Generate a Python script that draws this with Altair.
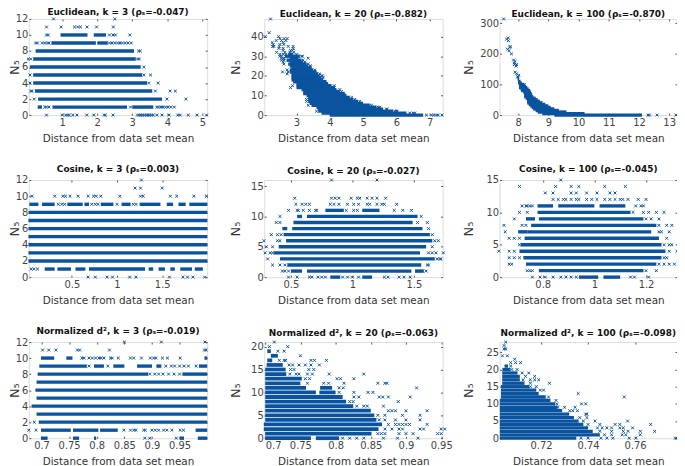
import altair as alt
import pandas as pd

BLUE = "#0a539f"
XSHAPE = "M-1,-1L1,1M1,-1L-1,1"

# Each RUNS entry: (N5, start, end) of a stretch so dense the crosses merge.
# Each POINTS entry: (N5, [distances]) of separately visible crosses.
P1_RUNS = [(10,.95,1.72),(10,1.9,2.25),(9,.69,1.96),(9,2.0,2.3),(8,.24,3.05),(7,.17,3.1),(6,.08,3.24),(5,.17,3.28),
           (4,.17,3.42),(3,.22,3.57),(2,.31,3.85),(1,.72,2.85),(1,.3,.42),(1,3.0,3.6)]
P1_POINTS = [(12,[.75,2.5]),(11,[.55,.97,1.35,1.44,1.52,1.71,1.98,2.46]),(10,[.55,.6,2.35,2.45,2.52,2.93]),
             (9,[.24,.29,.43,.5,.58,.62,2.35,2.42,2.5,2.58,2.65,2.72,2.8,2.88,2.97]),(8,[3.18,3.23]),(7,[.03,.1,3.15,3.2]),
             (6,[3.33]),(5,[.08,3.33,3.52]),(4,[.08,3.47,3.74]),(3,[.1,.14,3.66,4.08,4.23]),(2,[.2,3.99,4.53]),
             (1,[.5,.55,.62,2.95,3.7,3.75,3.82,3.88,3.95,4.02,4.1,4.2]),
             (0,[.55,1.0,1.1,1.15,1.2,1.3,1.42,1.7,1.9,2.2,2.23,2.45,3.15,3.2,3.25,3.3,3.35,3.4,3.45,3.5,3.55,3.6,3.7,3.85,4.05,4.3,4.37,4.6,4.85,5.12])]

P2_RUNS = [(0,4.0,6.8),(1,3.75,6.3),(2,3.65,5.9),(3,3.65,5.6),(4,3.6,5.4),(5,3.45,5.2),(6,3.4,5.0),(7,3.35,4.85),(8,3.35,4.7),
           (9,3.35,4.6),(10,3.3,4.5),(11,3.2,4.45),(12,3.2,4.3),(13,3.15,4.2),(14,3.0,4.15),(15,3.0,4.05),(16,3.0,3.95),
           (17,2.9,3.9),(18,2.85,3.8),(19,2.85,3.75),(20,2.85,3.7),(21,2.85,3.65),(22,2.8,3.6),(23,2.8,3.5),(24,2.85,3.45),
           (25,2.8,3.35),(26,2.75,3.3),(27,2.8,3.2),(28,2.7,3.15),(29,2.8,3.05),(30,2.65,3.1),(31,2.75,2.9)]
P2_POINTS = [(49,[2.22]),(42,[2.18]),(40,[2.06,2.46]),(39,[2.5,2.63,2.72]),(38,[2.39,2.55,2.68]),(37,[2.27,2.6]),(36,[2.3,2.5,2.62]),
             (35,[2.28,2.32,2.48,2.75,2.9]),(34,[2.47,2.6,2.9]),(33,[2.6,2.82,2.88]),(32,[2.4,2.65,2.8,2.92]),(31,[2.5,2.6,2.68,3.0]),
             (30,[2.5,2.55,3.15,3.18]),(29,[2.55,2.62,3.35]),(28,[2.55,2.62,3.2]),(27,[2.6,3.25]),(26,[2.62,3.35]),(25,[3.4,3.42]),
             (23,[2.72,3.55]),(22,[2.58,2.75]),(21,[2.72,3.7]),(20,[3.75,3.78]),(19,[3.8]),(15,[2.88,4.13]),(14,[2.82,4.13]),
             (13,[4.3]),(12,[4.35]),(9,[4.66]),(8,[3.3,4.75]),(7,[3.3,4.9]),(5,[3.35,5.25]),(4,[5.45,5.5]),(3,[5.7,5.72]),(2,[3.6,5.95,6.0,6.02]),
             (1,[6.4,6.5,6.55]),(0,[6.9,7.05,7.12,7.2,7.25,7.37])]

P3_RUNS = [(0,9.2,12.1),(5,8.8,10.2),(10,8.65,9.6),(15,8.58,9.35),(20,8.5,9.2),(25,8.45,9.08),(30,8.4,9.0),(35,8.35,8.9),(40,8.3,8.8),
           (45,8.3,8.72),(50,8.3,8.65),(55,8.25,8.58),(60,8.2,8.5),(65,8.2,8.47),(70,8.2,8.45),(75,8.17,8.42),(80,8.1,8.4),(85,8.08,8.35),
           (90,8.03,8.3),(95,8.03,8.25),(100,8.03,8.2),(105,8.0,8.12),(110,8.0,8.08),(118,7.98,8.03)]
P3_POINTS = [(314,[7.52]),(252,[7.67]),(248,[7.62]),(243,[7.68]),(223,[7.75]),(222,[7.72]),(215,[7.65]),(210,[7.7]),(200,[7.78]),
             (180,[7.85]),(175,[7.9]),(170,[7.87]),(165,[7.88,7.95]),(160,[7.93]),(140,[7.9]),(135,[7.95]),(130,[8.02]),(125,[7.98,8.0]),
             (100,[8.1,8.2]),(90,[8.25]),(75,[8.38]),(40,[8.6,8.75]),(0,[12.3,12.35,12.6,13.23])]

P4_RUNS = [(9,.03,.13),(9,.17,.31),(9,.45,.62),(9,.64,.69),(9,.82,.96),(9,1.05,1.15),(9,1.25,1.48),(9,1.55,1.62),(9,1.8,2.0),(9,1.68,1.76),
           (8,.02,2.0),(7,.02,2.0),(6,.02,2.0),(5,.02,2.0),(4,.02,2.0),(3,.02,2.0),(2,.02,2.0),
           (1,.2,.31),(1,.34,.49),(1,.54,.65),(1,.69,1.31),(1,1.35,1.4),(1,1.46,1.53),(1,1.59,1.64),(1,1.7,1.83),(1,1.86,1.95)]
P4_POINTS = [(12,[1.27]),(11,[1.2,1.26,1.5]),(10,[.06,.31,.40,.43,.48,.57,.68,.74,.77,.82,1.03,1.26,1.29,1.59,1.66,1.85,1.99]),
             (9,[.35,.39,.42,.72,.76,.79,1.0,1.18,1.21]),(1,[.05,.08,.12]),(0,[.68,.76,.89,.95,1.14,1.21,1.58,1.73,1.78,1.84,1.97])]

P5_RUNS = [(11,.78,.93),(11,1.08,1.22),(10,.55,.59),(10,.63,1.53),(9,.52,1.49),(8,.43,.47),(8,.51,1.57),(7,.44,1.63),(6,.46,1.65),(5,.4,1.6),
           (4,.36,1.55),(3,.41,1.67),(2,.47,1.56),(1,.5,.59),(1,.63,1.48),(1,1.51,1.58),(0,1.08,1.16),(0,.82,.9)]
P5_POINTS = [(16,[.83,1.2]),(13,[.53,.83,.86,.89,.99,1.04,1.06,1.12,1.16,1.2,1.27]),
             (12,[.54,.59,.62,.65,.82,.85,.89,.96,1.01,1.05,1.12,1.14,1.2,1.24,1.26,1.36]),
             (11,[.48,.55,.56,.6,.65,.7,.71,.95,1.01,1.04,1.34,1.41,1.48]),(10,[.41,1.56]),(9,[.38,.41,1.53,1.61]),(8,[1.62]),
             (7,[.34,.39,.42,1.65]),(6,[.28,.39,.41,1.67,1.7]),(5,[.3,.35,1.65]),(4,[.29,.33,.35,1.62,1.65,1.68,1.74]),
             (3,[.31,1.69,1.71,1.72]),(2,[.35,.41,.45,1.61,1.62]),(1,[.43,.45,.48,1.53,1.57,1.6]),
             (0,[.48,.55,.65,.67,.72,.75,.78,.92,.96,1.0,1.05,1.26,1.29,1.38,1.42,1.47])]

P6_RUNS = [(11,.78,.84),(11,.86,1.0),(11,1.02,1.12),(10,.78,1.14),(9,.785,1.19),(9,.735,.77),(8,.755,1.24),(7,.74,1.22),(7,.705,.74),
           (6,.73,1.25),(5,.715,1.26),(4,.71,1.275),(3,.725,1.26),(2,.735,1.24),(1,.785,1.19),(0,.94,1.015),(0,1.035,1.1)]
P6_POINTS = [(15,[.87]),(14,[.71,.85,.91,.94,1.04,1.12]),(13,[.81,.84,.91,.93,.97,1.01,1.06,1.08]),
             (12,[.84,.86,.88,.89,.91,.93,.94,.97,.99,1.01,1.04,1.06,1.08,1.1,1.11,1.13,1.17,1.2]),(11,[.72,.735,.74,.75,.76,1.16,1.18,1.19]),
             (10,[.71,.74,1.15,1.19,1.21,1.24,1.27]),(9,[.69,1.2,1.22,1.25]),(8,[.65,.72,.735,1.25,1.28,1.3]),(7,[.655,1.25,1.26,1.29]),
             (6,[.67,.69,.71,1.28]),(5,[.71,1.27,1.29,1.3]),(4,[.63,.67,.69,1.29,1.32]),(3,[.67,.69,.71,1.27,1.28]),
             (2,[.67,.68,1.25,1.27,1.29,1.31]),(1,[.74,.75,.76,1.2,1.24]),(0,[.76,.79,.81,.84,.87,.89,.91,.93,1.14,1.155,1.21])]

P7_RUNS = [(10,.699,.723),(10,.745,.756),(10,.995,1.0),(9,.696,.782),(9,.795,.813),(9,.83,.85),(9,.873,.9),(9,.908,.917),(9,.985,1.0),
           (8,.693,.893),(8,.955,1.0),(7,.691,1.0),(6,.689,1.0),(5,.691,1.0),(4,.682,1.0),(3,.691,1.0),(2,.695,1.0),
           (1,.699,.753),(1,.757,.803),(1,.806,.838),(1,.979,1.0),(0,.699,.711),(0,.757,.768),(0,.795,.799),(0,.95,.958),(0,.983,1.0)]
P7_POINTS = [(12,[.85,.917,.996]),(11,[.702,.713,.726,.765,.769,.823,.995,.998]),
             (10,[.773,.777,.786,.792,.798,.804,.808,.813,.825,.828,.839,.861,.867,.881,.897,.903,.907,.919,.928,.951]),
             (9,[.786,.82,.925,.935,.941,.95,.958,.966,.98]),(8,[.896,.905,.912,.92,.93,.94,.95]),(2,[.687]),
             (1,[.677,.69,.849,.861,.867,.871,.885,.888,.9,.906,.912,.921,.927,.936,.951,.957]),(0,[.887,.896,.944])]

P8_RUNS = [(19,.703,.708),(18,.708,.718),(17,.703,.71),(16,.702,.725),(15,.7,.729),(14,.7,.73),(13,.7,.752),(12,.7,.75),(11,.7,.758),
           (11,.778,.795),(10,.7,.772),(10,.777,.8),(9,.7,.81),(8,.7,.815),(7,.7,.825),(6,.7,.85),(5,.7,.855),(4,.7,.858),
           (3,.698,.866),(2,.698,.861),(1,.7,.851),(0,.7,.765),(0,.772,.805)]
P8_POINTS = [(21,[.713]),(20,[.706,.732]),(19,[.718,.727]),(18,[.75]),(17,[.72,.727,.729,.765,.77,.787]),
             (16,[.734,.739,.748,.757,.765,.777]),(15,[.736,.741,.762,.769]),(14,[.735,.744,.748,.76,.767,.791,.84]),
             (13,[.757,.763,.802,.807,.826]),(12,[.76,.783,.79,.812,.86,.873,.87]),(11,[.805,.811,.915]),(10,[.805,.826,.846,.853]),
             (9,[.826,.833,.862,.867,.875,.906]),(8,[.82,.825,.889]),(7,[.83,.84,.845,.868]),(6,[.875,.88,.885,.9,.93]),
             (5,[.86,.87,.895,.92]),(4,[.862,.87,.885,.9,.92]),(3,[.875,.885,.89,.895,.9,.905,.93]),(2,[.87,.88,.89,.895,.92,.925,.95,.955]),
             (1,[.86,.865,.87,.89,.9,.91,.945,.95]),(0,[.81,.82,.83,.84,.868,.888,.917])]

P9_RUNS = [(0,.7025,.735),(1,.7025,.745),(2,.7025,.742),(3,.7025,.74),(4,.7025,.738),(5,.7025,.736),(6,.7025,.734),(7,.7025,.732),
           (8,.7025,.729),(9,.7025,.727),(10,.7025,.726),(11,.7025,.724),(12,.703,.722),(13,.703,.719),(14,.703,.718),(15,.703,.715),
           (16,.7035,.713),(17,.7035,.711),(18,.7035,.711),(19,.7035,.71),(20,.7036,.707),(21,.7045,.706)]
P9_POINTS = [(28,[.705]),(27,[.7043]),(26,[.7043,.705]),(24,[.7036,.7057]),(23,[.7088]),(22,[.7071,.7092,.7113]),(21,[.7071]),
             (20,[.7076,.7098]),(19,[.712,.7148]),(18,[.7173,.7134]),(17,[.7124,.7155,.7173,.719]),(16,[.7155,.7236]),(15,[.7155,.718]),
             (14,[.7197,.7211]),(13,[.7358]),(12,[.7232,.7554]),(11,[.7264]),(10,[.7267,.7372,.739]),(9,[.7272,.73,.7345]),
             (8,[.7322,.7355,.7335]),(7,[.739,.7395]),(6,[.7365,.7395]),(5,[.7568,.743,.738]),
             (4,[.7666,.7515,.7535,.74,.745]),(3,[.7589,.744,.746,.748,.75,.7535,.755]),(2,[.7683,.7622,.75,.755,.757,.745]),
             (1,[.7622,.7545,.756,.75,.747]),(0,[.7778,.7771,.7603,.7575,.7505,.748,.7455,.74,.737])]

PANELS = [
 ("Euclidean, k = 3 (ρₛ=-0.047)", (0.045,5.14), (0,12), [1,2,3,4,5], [0,2,4,6,8,10,12], P1_RUNS, P1_POINTS, 97, 180, 3.4),
 ("Euclidean, k = 20 (ρₛ=-0.882)", (2.03,7.385), (0,49), [3,4,5,6,7], [0,10,20,30,40], P2_RUNS, P2_POINTS, 97, 180, 3.4),
 ("Euclidean, k = 100 (ρₛ=-0.870)", (7.387,13.26), (0,314), [8,9,10,11,12,13], [0,100,200,300], P3_RUNS, P3_POINTS, 97, 179, 3.4),
 ("Cosine, k = 3 (ρₛ=0.003)", (0.024,1.998), (0,12), [0.5,1,1.5], [0,2,4,6,8,10,12], P4_RUNS, P4_POINTS, 98, 180, 3.4),
 ("Cosine, k = 20 (ρₛ=-0.027)", (0.282,1.734), (0,16), [0.5,1,1.5], [0,5,10,15], P5_RUNS, P5_POINTS, 98, 180, 3.4),
 ("Cosine, k = 100 (ρₛ=-0.045)", (0.633,1.32), (0,15), [0.8,1,1.2], [0,5,10,15], P6_RUNS, P6_POINTS, 98, 179, 3.4),
 ("Normalized d², k = 3 (ρₛ=-0.019)", (0.677,1.0), (0,12), [0.7,0.75,0.8,0.85,0.9,0.95], [0,2,4,6,8,10,12], P7_RUNS, P7_POINTS, 97, 180, 3.4),
 ("Normalized d², k = 20 (ρₛ=-0.063)", (0.6986,0.952), (0,21), [0.7,0.75,0.8,0.85,0.9,0.95], [0,5,10,15,20], P8_RUNS, P8_POINTS, 97, 180, 3.8),
 ("Normalized d², k = 100 (ρₛ=-0.098)", (0.7024,0.7778), (0,28), [0.72,0.74,0.76], [0,5,10,15,20,25], P9_RUNS, P9_POINTS, 97, 179, 3.3),
]

def panel(i, title, xd, yd, xt, yt, runs, points, h, w, band):
    rdf = pd.DataFrame(runs, columns=["n", "x0", "x1"])
    pdf = pd.DataFrame([(n, v) for n, vals in points for v in vals], columns=["n", "x"])
    xs = alt.Scale(domain=list(xd), nice=False, zero=False)
    ys = alt.Scale(domain=list(yd), nice=False, zero=False)
    ax = alt.Axis(values=xt, format=".3~f", title="Distance from data set mean", grid=False, domain=False,
                  tickSize=alt.expr("-2"), tickColor="#555", labelPadding=4, labelColor="#444", labelFontSize=10,
                  titleFontSize=10.5, titleFontWeight="normal", titleColor="#333", titlePadding=7)
    ay = alt.Axis(values=yt, format=".3~f", title="N₅", grid=False, domain=False,
                  tickSize=alt.expr("-2"), tickColor="#555", labelPadding=3, labelColor="#444", labelFontSize=10,
                  titleFontSize=13, titleFontWeight="normal", titleColor="#333",
                  titleX=[-7, -22, -24][i % 3])
    axt = alt.Axis(orient="top", values=xt, labels=False, title=None, grid=False, domain=False,
                   tickSize=alt.expr("-2"), tickColor="#555")
    ayr = alt.Axis(orient="right", values=yt, labels=False, title=None, grid=False, domain=False,
                   tickSize=alt.expr("-2"), tickColor="#555")
    a = alt.Chart(rdf).mark_rule(color=BLUE, strokeWidth=band, clip=False).encode(
        x=alt.X("x0:Q", scale=xs, axis=ax), x2="x1:Q", y=alt.Y("n:Q", scale=ys, axis=ay))
    b = alt.Chart(pdf).mark_point(shape=XSHAPE, size=8, filled=False, color=BLUE, strokeWidth=1, opacity=1, clip=False).encode(
        x=alt.X("x:Q", scale=xs, axis=axt), y=alt.Y("n:Q", scale=ys, axis=ayr))
    return alt.layer(a, b).resolve_axis(x="independent", y="independent").properties(
        width=w, height=h,
        title=alt.TitleParams(title, fontSize=9, fontWeight="bold", color="#111", offset=(-3 if i < 3 else 1), anchor="middle"))

charts = [panel(i, *p) for i, p in enumerate(PANELS)]
chart = alt.concat(*charts, columns=3, spacing=alt.RowColnumber(row=65.5, column=57.5), bounds="flush").properties(
    autosize=alt.AutoSizeParams(type="none"),
    padding={"left": 21, "top": 9, "right": 654, "bottom": 449},
).configure_view(stroke="#888", strokeWidth=1).configure(font="DejaVu Sans", background="white")
chart.save("out.html", embed_options={"renderer": "svg", "actions": False})
